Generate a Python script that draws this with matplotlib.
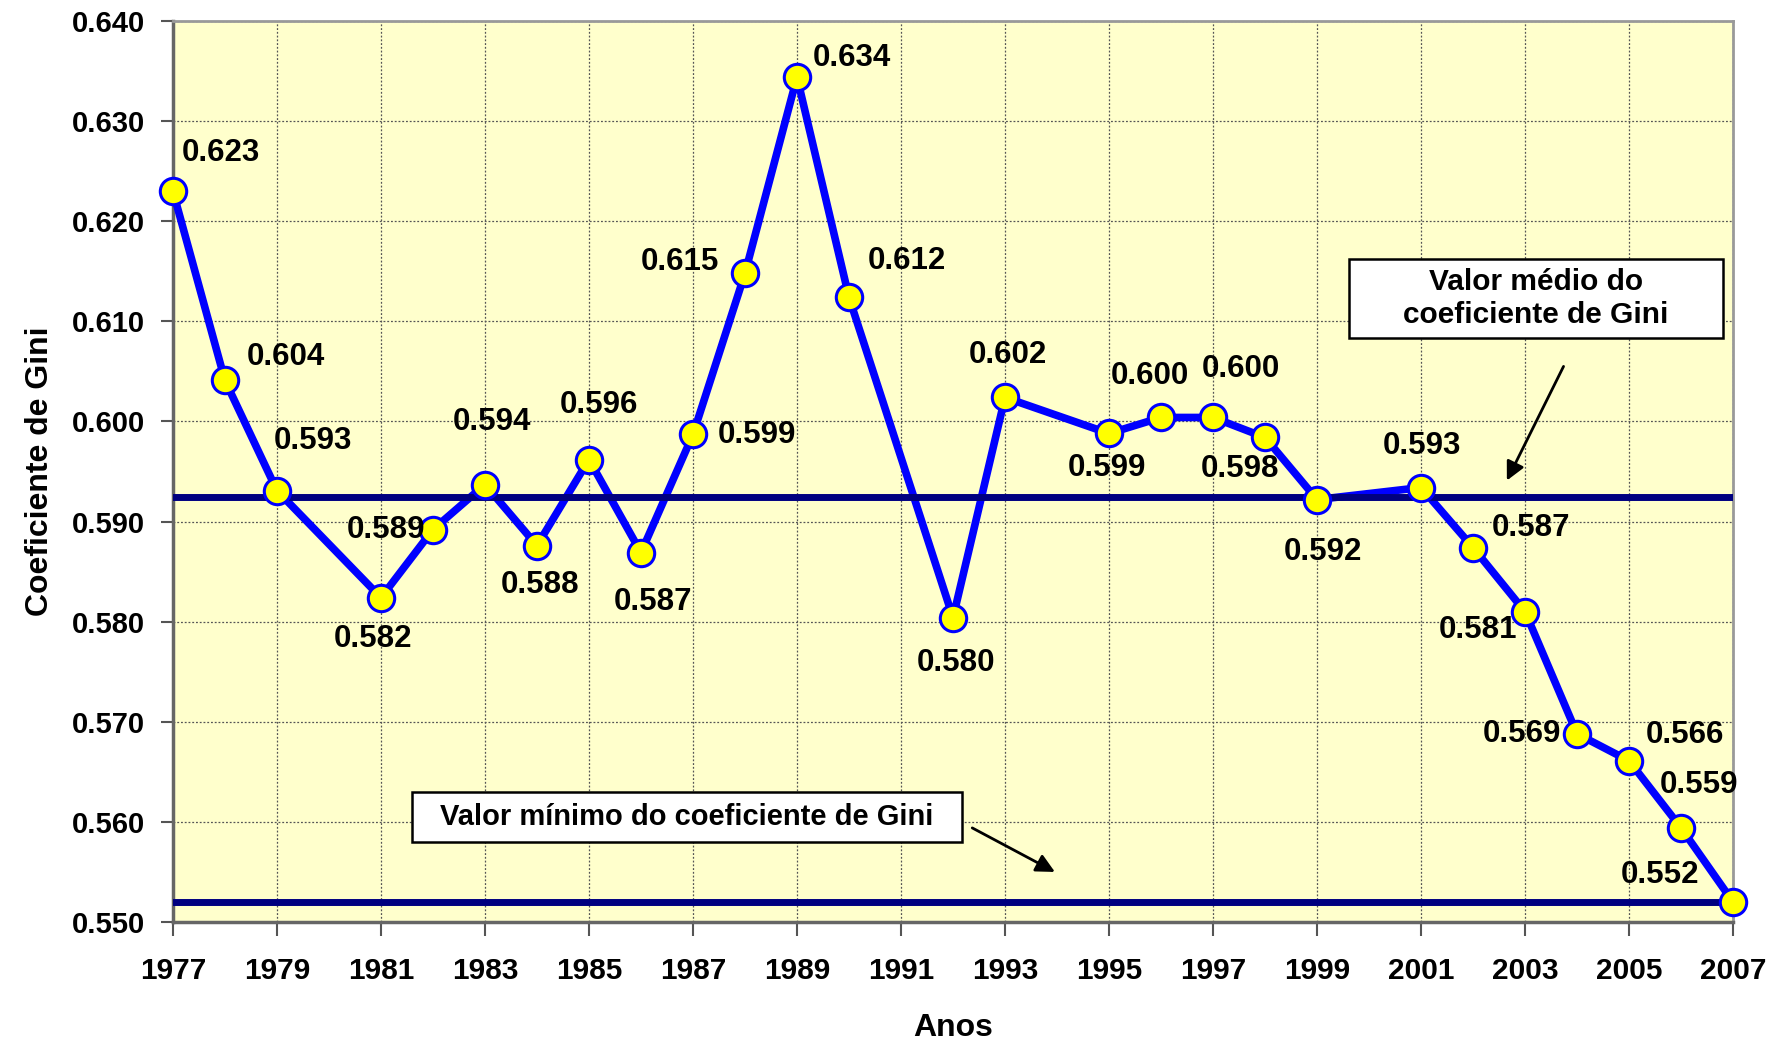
import matplotlib
matplotlib.use("Agg")
import matplotlib.pyplot as plt
from matplotlib.patches import Rectangle

# Gini coefficient by year (years without survey are skipped)
years = [1977, 1978, 1979, 1981, 1982, 1983, 1984, 1985, 1986, 1987, 1988, 1989,
         1990, 1992, 1993, 1995, 1996, 1997, 1998, 1999, 2001, 2002, 2003, 2004,
         2005, 2006, 2007]
gini = [0.6230, 0.6041, 0.5931, 0.5824, 0.5892, 0.5937, 0.5876, 0.5962, 0.5869,
        0.5987, 0.6148, 0.6344, 0.6124, 0.5804, 0.6024, 0.5988, 0.6004, 0.6004,
        0.5984, 0.5922, 0.5934, 0.5874, 0.5810, 0.5688, 0.5661, 0.5594, 0.5520]
mean_gini = 0.5925
min_gini = 0.5520

# label offsets (pixels) relative to each point
label_dx = [48, 61, 36, -8, -47, 7, 3, 10, 12, 64, -65, 55, 58, 3, 3, -2, -11, 28,
            -25, 6, 1, 58, -47, -55, 56, 18, -73]
label_dy = [38, 23, 50, -41, 0, 63, -39, 55, -49, -1, 11, 19, 36, -45, 42, -35, 41,
            48, -32, -52, 42, 20, -18, 0, 26, 43, 27]

FONT = "Liberation Sans"
plt.rcParams['font.family'] = [FONT, 'DejaVu Sans']
plt.rcParams['font.weight'] = 'bold'

fig = plt.figure(figsize=(17.83, 10.41), dpi=100)
ax = fig.add_axes([0.097, 0.1143, 0.875, 0.8655])
ax.set_facecolor('#FFFFCC')

ax.plot(years, gini, color='#0000FF', lw=5.5, zorder=3, solid_joinstyle='round')
ax.axhline(mean_gini, color='#000080', lw=5, zorder=4)
ax.axhline(min_gini, color='#000080', lw=5, zorder=4)
ax.plot(years, gini, ls='none', marker='o', ms=19, mfc='#FFFF00', mec='#0000FF',
        mew=2.2, zorder=5, clip_on=False)

for x, y, dx, dy in zip(years, gini, label_dx, label_dy):
    ax.annotate(f"{y:.3f}", (x, y), xytext=(dx, dy), textcoords='offset pixels',
                ha='center', va='center', fontsize=22.5, fontweight='bold', zorder=6)

ax.set_xlim(1977, 2007)
ax.set_ylim(0.550, 0.640)
ax.set_xticks(range(1977, 2008, 2))
ax.set_yticks([0.55 + 0.01 * i for i in range(10)])
ax.set_yticklabels([f"{0.55 + 0.01 * i:.3f}" for i in range(10)])
ax.tick_params(axis='both', direction='out', color='#555555', width=1.5)
ax.tick_params(axis='y', length=9, pad=11, labelsize=21)
ax.tick_params(axis='x', length=10, pad=15, labelsize=21.5)
for t in ax.get_xticklabels() + ax.get_yticklabels():
    t.set_fontweight('bold')

ax.grid(True, color='#555555', ls=(0, (1.5, 1.5)), lw=0.9, zorder=1)
ax.set_axisbelow(True)
for side in ['top', 'right']:
    ax.spines[side].set_color('#999999')
    ax.spines[side].set_linewidth(2)
for side in ['left', 'bottom']:
    ax.spines[side].set_color('#666666')
    ax.spines[side].set_linewidth(2.5)

ax.set_xlabel("Anos", fontsize=23, fontweight='bold', labelpad=20)
ax.set_ylabel("Coeficiente de Gini", fontsize=23, fontweight='bold', labelpad=12)

# annotation boxes (axes fraction)
ax.add_patch(Rectangle((0.7536, 0.6483), 0.2398, 0.0873, transform=ax.transAxes,
                       facecolor='white', edgecolor='black', lw=1.8, zorder=7))
ax.text(0.8736, 0.692, "Valor médio do\ncoeficiente de Gini", transform=ax.transAxes,
        ha='center', va='center', fontsize=21.5, fontweight='bold',
        linespacing=1.2, zorder=8)
ax.annotate("", xy=(2002.65, 0.5941), xytext=(2003.74, 0.6055),
            arrowprops=dict(arrowstyle='-|>', color='black', lw=2,
                            mutation_scale=28, shrinkA=0, shrinkB=0), zorder=8)

ax.add_patch(Rectangle((0.1532, 0.0884), 0.3526, 0.0556, transform=ax.transAxes,
                       facecolor='white', edgecolor='black', lw=1.8, zorder=7))
ax.text(0.3295, 0.1162, "Valor mínimo do coeficiente de Gini", transform=ax.transAxes,
        ha='center', va='center', fontsize=21, fontweight='bold', zorder=8)
ax.annotate("", xy=(1993.96, 0.5550), xytext=(1992.37, 0.5594),
            arrowprops=dict(arrowstyle='-|>', color='black', lw=2,
                            mutation_scale=28, shrinkA=0, shrinkB=0), zorder=8)

fig.savefig("out.png", dpi=100)
